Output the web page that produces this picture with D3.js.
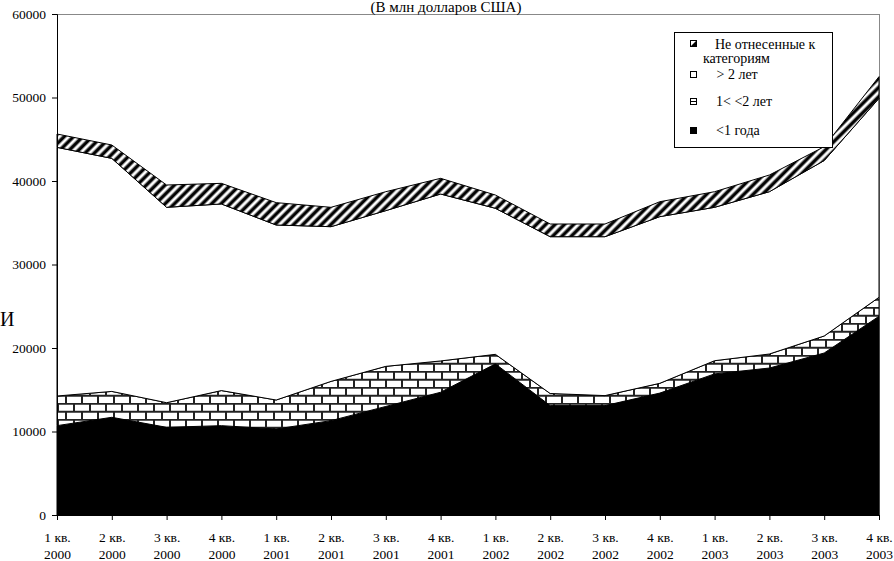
<!DOCTYPE html>
<html>
<head>
<meta charset="utf-8">
<script src="https://cdn.jsdelivr.net/npm/d3@7"></script>
<style>
  html, body { margin: 0; padding: 0; background: #fff; }
  svg { display: block; }
  text { font-family: "Liberation Serif", "Times New Roman", serif; fill: #000; }
</style>
</head>
<body>
<svg id="chart" width="894" height="561"></svg>
<script>
// ---- data ----
const quarters = ["1 кв.|2000","2 кв.|2000","3 кв.|2000","4 кв.|2000",
                  "1 кв.|2001","2 кв.|2001","3 кв.|2001","4 кв.|2001",
                  "1 кв.|2002","2 кв.|2002","3 кв.|2002","4 кв.|2002",
                  "1 кв.|2003","2 кв.|2003","3 кв.|2003","4 кв.|2003"];
const lessThan1 = [10700,11700,10500,10700,10300,11300,13000,14700,18100,13100,13100,14600,16900,17600,19400,23800];
const from1to2  = [3550,3100,2950,4200,3470,4700,4800,3750,1140,1450,1200,1170,1580,1680,2040,2270];
const moreThan2 = [29780,27910,23400,22350,20960,18530,18650,19990,17490,18780,19030,19960,18370,19440,21010,23830];
const unclassified = [1600,1600,2670,2470,2680,2320,2270,1880,1590,1520,1520,1790,1870,2000,1660,2600];
const yTicks = [0,10000,20000,30000,40000,50000,60000];
const seriesKeys = ["lt1","b12","gt2","unc"];
const legendLabels = [["Не отнесенные к","категориям"],["> 2 лет"],["1< <2 лет"],["<1 года"]];
const title = "(В млн долларов США)";

// ---- build table ----
const rows = quarters.map((q,i)=>({q, lt1:lessThan1[i], b12:from1to2[i], gt2:moreThan2[i], unc:unclassified[i]}));

const svg = d3.select("#chart");
const defs = svg.append("defs");

// brick pattern
const brick = defs.append("pattern").attr("id","brick").attr("patternUnits","userSpaceOnUse")
  .attr("width",16).attr("height",16).attr("x",57).attr("y",3);
brick.append("rect").attr("width",16).attr("height",16).attr("fill","#fff");
brick.append("line").attr("x1",0).attr("x2",16).attr("y1",0.75).attr("y2",0.75).attr("stroke","#222").attr("stroke-width",2);
brick.append("line").attr("x1",0).attr("x2",16).attr("y1",8.75).attr("y2",8.75).attr("stroke","#222").attr("stroke-width",2);
brick.append("line").attr("x1",1).attr("x2",1).attr("y1",0).attr("y2",8.75).attr("stroke","#222").attr("stroke-width",2);
brick.append("line").attr("x1",9).attr("x2",9).attr("y1",8.75).attr("y2",16).attr("stroke","#222").attr("stroke-width",2);

// stripe pattern
const grad = defs.append("linearGradient").attr("id","stripeGrad").attr("x1","0").attr("x2","1").attr("y1","0").attr("y2","0");
[[0,"#fff"],[0.12,"#fff"],[0.38,"#000"],[0.64,"#000"],[0.9,"#fff"],[1,"#fff"]].forEach(([o,c])=>
  grad.append("stop").attr("offset",o).attr("stop-color",c));
const stripes = defs.append("pattern").attr("id","stripes").attr("patternUnits","userSpaceOnUse")
  .attr("width",6.6).attr("height",6.6).attr("patternTransform","rotate(45)");
stripes.append("rect").attr("width",6.6).attr("height",6.6).attr("fill","url(#stripeGrad)");

const fills = {lt1:"#000", b12:"url(#brick)", gt2:"#fff", unc:"url(#stripes)"};

// ---- scales ----
const x = d3.scalePoint().domain(quarters).range([57,879]);
const y = d3.scaleLinear().domain([0,60000]).range([515,14]);

// frame (top/right gray)
svg.append("line").attr("x1",57).attr("x2",879).attr("y1",14.5).attr("y2",14.5).attr("stroke","#888").attr("stroke-width",1);
svg.append("line").attr("x1",879.5).attr("x2",879.5).attr("y1",14).attr("y2",515).attr("stroke","#888").attr("stroke-width",1);

// ---- stacked areas ----
const stack = d3.stack().keys(seriesKeys);
const layers = stack(rows);
const area = d3.area().x(d=>x(d.data.q)).y0(d=>y(d[0])).y1(d=>y(d[1]));
svg.append("g").selectAll("path").data(layers).join("path")
  .attr("d",area)
  .attr("fill",d=>fills[d.key])
  .attr("stroke","#000").attr("stroke-width",1).attr("stroke-linejoin","miter");

// ---- axes ----
const yAxis = svg.append("g").attr("transform","translate(57,0)")
  .call(d3.axisLeft(y).tickValues(yTicks).tickFormat(d3.format("d")).tickSize(5).tickPadding(6));
yAxis.attr("font-family","Liberation Serif").attr("font-size",13.5);
yAxis.selectAll("text").attr("fill","#000");
yAxis.selectAll("line,path").attr("stroke","#000");

const xAxis = svg.append("g").attr("transform","translate(0,515)")
  .call(d3.axisBottom(x).tickSize(5).tickFormat(""));
xAxis.attr("font-family","Liberation Serif").attr("font-size",13.5);
xAxis.selectAll("line,path").attr("stroke","#000");
xAxis.selectAll(".tick").each(function(d){
  const parts = d.split("|");
  const t = d3.select(this).append("text").attr("text-anchor","middle").attr("fill","#000");
  t.append("tspan").attr("x",0).attr("y",26.5).text(parts[0]);
  t.append("tspan").attr("x",0).attr("y",44).text(parts[1]);
});

// ---- title & stray label ----
svg.append("text").attr("x",446).attr("y",12).attr("text-anchor","middle")
  .style("font-size","15px").text(title);
svg.append("text").attr("x",0).attr("y",326).style("font-size","20px").text("И");

// ---- legend ----
const lg = svg.append("g");
lg.append("rect").attr("x",674.5).attr("y",32.5).attr("width",158).attr("height",115)
  .attr("fill","#fff").attr("stroke","#000").attr("stroke-width",1);
const sw = [40,71,98,127];
// unclassified swatch
lg.append("rect").attr("x",690.5).attr("y",sw[0]+0.5).attr("width",6).attr("height",6).attr("fill","#fff").attr("stroke","#000");
lg.append("path").attr("d",`M697,${sw[0]} L697,${sw[0]+7} L690,${sw[0]+7} Z`).attr("fill","#000");
// >2
lg.append("rect").attr("x",690.5).attr("y",sw[1]+0.5).attr("width",6).attr("height",6).attr("fill","#fff").attr("stroke","#000");
// 1<<2
lg.append("rect").attr("x",690.5).attr("y",sw[2]+0.5).attr("width",6).attr("height",6).attr("fill","#fff").attr("stroke","#000");
lg.append("line").attr("x1",690).attr("x2",697).attr("y1",sw[2]+3.5).attr("y2",sw[2]+3.5).attr("stroke","#000");
// <1
lg.append("rect").attr("x",690).attr("y",sw[3]).attr("width",7).attr("height",7).attr("fill","#000");

const lt = lg.append("g").style("font-size","14px");
lt.append("text").attr("x",715).attr("y",49).text(legendLabels[0][0]);
lt.append("text").attr("x",703).attr("y",63).text(legendLabels[0][1]);
lt.append("text").attr("x",716.5).attr("y",79).text(legendLabels[1][0]);
lt.append("text").attr("x",716).attr("y",106).text(legendLabels[2][0]);
lt.append("text").attr("x",716).attr("y",135).text(legendLabels[3][0]);
</script>
</body>
</html>
